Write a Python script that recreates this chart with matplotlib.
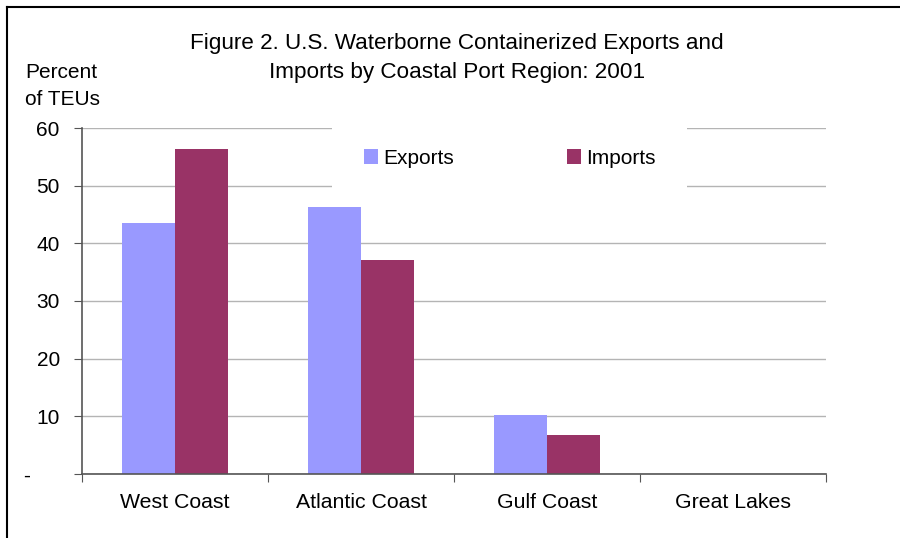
import numpy as np
import matplotlib.pyplot as plt
from matplotlib.lines import Line2D

plt.rcParams['font.family'] = ['Liberation Sans', 'DejaVu Sans']

# data
regions = ['West Coast', 'Atlantic Coast', 'Gulf Coast', 'Great Lakes']
exports = [43.5, 46.3, 10.3, 0.0]
imports = [56.3, 37.1, 6.7, 0.0]
y_ticks = [0, 10, 20, 30, 40, 50, 60]
y_labels = ['-     ', '10', '20', '30', '40', '50', '60']

W, H = 900, 538
fig = plt.figure(figsize=(9, 5.38), dpi=100)
ax = fig.add_axes([82 / W, (H - 474) / H, 744 / W, 346 / H])

x = np.arange(len(regions)) + 0.5
bw = 0.2875
ax.bar(x - bw / 2, exports, bw, color='#9999ff', label='Exports', zorder=2)
ax.bar(x + bw / 2, imports, bw, color='#993366', label='Imports', zorder=2)

ax.set_xlim(0, 4)
ax.set_ylim(0, 60)
ax.set_yticks(y_ticks)
ax.set_yticklabels(y_labels)
ax.set_xticks(np.arange(5))
ax.set_xticklabels([])
ax.set_xticks(x, minor=True)
ax.set_xticklabels(regions, minor=True)
ax.tick_params(axis='x', which='minor', length=0, pad=14, labelsize=15.3)
ax.tick_params(axis='x', which='major', length=6, color='#555555')
ax.tick_params(axis='y', length=6, pad=10, labelsize=15, color='#555555')
ax.grid(axis='y', color='#b4b4b4', lw=1, zorder=0)
ax.set_axisbelow(True)
for s in ['top', 'right']:
    ax.spines[s].set_visible(False)
for s in ['left', 'bottom']:
    ax.spines[s].set_color('#555555')
    ax.spines[s].set_linewidth(1.2)

# legend box sits on top of the gridlines (white background)
leg = ax.legend(loc='center', bbox_to_anchor=(0.575, 0.913), ncol=2, fontsize=15,
                frameon=True, facecolor='white', edgecolor='none', framealpha=1,
                borderpad=1.5, handlelength=0.7, handleheight=0.7,
                handletextpad=0.25, columnspacing=5.4, fancybox=False)
leg.set_zorder(1)

fig.text(457 / W, 1 - 58 / H,
         'Figure 2. U.S. Waterborne Containerized Exports and\nImports by Coastal Port Region: 2001',
         ha='center', va='center', fontsize=16.2, linespacing=1.55)
fig.text(25 / W, 1 - 86 / H, 'Percent\nof TEUs', ha='left', va='center',
         fontsize=15, linespacing=1.55)

# frame around the chart area
fig.add_artist(Line2D([7 / W, 7 / W], [0, 1 - 7 / H], color='black', lw=1.5))
fig.add_artist(Line2D([7 / W, 1], [1 - 7 / H, 1 - 7 / H], color='black', lw=1.5))

fig.savefig('out.png', dpi=100)
